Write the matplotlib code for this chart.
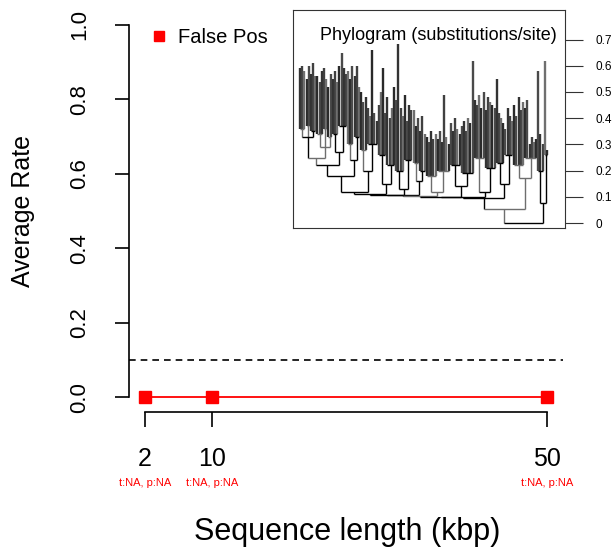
import matplotlib
matplotlib.use("Agg")
import matplotlib.pyplot as plt
import matplotlib.transforms as mtransforms
from matplotlib.collections import LineCollection
from matplotlib.lines import Line2D

plt.rcParams['font.family'] = ['Liberation Sans', 'DejaVu Sans']

# ---- data ----
seq_len = [2, 10, 50]
false_pos = [0.0, 0.0, 0.0]
tick_notes = ['t:NA, p:NA', 't:NA, p:NA', 't:NA, p:NA']
y_ticks = [0.0, 0.2, 0.4, 0.6, 0.8, 1.0]
threshold = 0.1
tree_ticks = [0, 0.1, 0.2, 0.3, 0.4, 0.5, 0.6, 0.7]
tree_tick_labels = ['0', '0.1', '0.2', '0.3', '0.4', '0.5', '0.6', '0.7']

# tree: leaf = tip height, node = (node height, [children]); heights in subst/site
G1 = (0.117, [
    (0.18, [
        (0.22, [
            (0.25, [
                (0.33, [(0.36, [0.59, 0.60, 0.58]), (0.37, [0.55, 0.60]), (0.35, [0.57, 0.61, 0.56])]),
                (0.29, [(0.34, [0.56, 0.54, 0.58]), (0.36, [0.59, 0.55]), (0.33, [0.52, 0.57])]),
            ]),
            (0.27, [(0.34, [0.55, 0.58, 0.54]), (0.37, [0.60, 0.65, 0.59, 0.57])]),
        ]),
        (0.24, [(0.30, [0.58, 0.55, 0.60]), (0.33, [0.56, 0.60, 0.52])]),
    ]),
    (0.20, [(0.28, [0.50, 0.46, 0.48]), (0.30, [0.44, 0.41, 0.66, 0.42, 0.39])]),
])
M1 = (0.15, [(0.26, [0.45, 0.50, 0.59, 0.42]), (0.22, [0.48, 0.40, 0.44, 0.52])])
M2 = (0.13, [(0.20, [0.47, 0.685, 0.44, 0.41]), (0.24, [0.49, 0.39, 0.45, 0.43])])
M3 = (0.16, [(0.23, [0.43, 0.37, 0.40]), (0.20, [0.35, 0.41, 0.34])])
M4 = (0.12, [(0.18, [0.33, 0.31, 0.35, 0.32, 0.34]), (0.20, [0.32, 0.35, 0.31, 0.49, 0.33, 0.30])])
M5 = (0.14, [(0.22, [0.38, 0.35, 0.40, 0.36, 0.34]), (0.19, [0.37, 0.39, 0.35, 0.40, 0.38, 0.62])])
M6 = (0.12, [(0.25, [0.47, 0.45, 0.49, 0.44, 0.50]), (0.21, [0.43, 0.48, 0.46, 0.45, 0.44])])
M7 = (0.15, [(0.23, [0.55, 0.42, 0.40, 0.38]), (0.26, [0.36, 0.44, 0.41, 0.39])])
C = (0.095, [(0.098, [(0.100, [(0.103, [(0.105, [(0.108, [(0.112, [G1, M1]), M2]), M3]), M4]), M5]), M6]), M7])
D = (0.17, [(0.22, [0.45, 0.41, 0.48, 0.43, 0.46]), (0.25, [0.44, 0.47, 0.30, 0.33, 0.31, 0.32])])
B = (0.075, [(0.20, [0.58, 0.34, 0.30]), (0.26, [0.62, 0.28])])
tree = (0.0, [(0.053, [C, D]), B])

tip_cols = ['#333333', '#404040', '#6f6f6f', '#2a2a2a', '#4a4a4a']
node_cols = ['#000000', '#6e6e6e']


def layout(node, parent_h, segs, cols, widths, counter):
    """returns x of node; appends vertical + horizontal segments"""
    if not isinstance(node, tuple):
        x = counter[0]
        counter[0] += 1
        segs.append([(x, parent_h), (x, node)])
        cols.append(tip_cols[x % len(tip_cols)])
        widths.append(1.7)
        return x
    h, kids = node
    xs = [layout(k, h, segs, cols, widths, counter) for k in kids]
    x = (xs[0] + xs[-1]) / 2.0
    c = node_cols[len(segs) % 2]
    segs.append([(xs[0], h), (xs[-1], h)])
    cols.append(c)
    widths.append(1.0)
    if parent_h is not None:
        segs.append([(x, parent_h), (x, h)])
        cols.append(c)
        widths.append(1.0)
    return x


# ---- figure ----
fig = plt.figure(figsize=(6.15, 5.54), dpi=100)
W, H = 615.0, 554.0
ax = fig.add_axes([129 / W, (H - 412) / H, 434 / W, 402 / H])

ax.plot(seq_len, false_pos, color='#ff0000', marker='s', ms=8.5, lw=1.3)
ax.axhline(threshold, color='black', lw=1.2, ls=(0, (4, 3)))

ax.set_xlim(2 - 0.04 * 48, 50 + 0.04 * 48)
ax.set_ylim(-0.04, 1.04)
for s in ['top', 'right']:
    ax.spines[s].set_visible(False)
ax.spines['left'].set_bounds(0, 1)
ax.spines['bottom'].set_bounds(2, 50)
for s in ['left', 'bottom']:
    ax.spines[s].set_linewidth(1.2)

ax.set_yticks(y_ticks)
ax.set_yticklabels(['%.1f' % v for v in y_ticks], rotation=90, va='center', fontsize=16)
ax.set_xticks(seq_len)
ax.set_xticklabels([str(v) for v in seq_len], fontsize=18)
ax.tick_params(axis='y', length=10, width=1.2, pad=18)
ax.tick_params(axis='x', length=11, width=1.2, pad=14)

note_tr = mtransforms.blended_transform_factory(ax.transData, fig.transFigure)
for xv, note in zip(seq_len, tick_notes):
    ax.text(xv, 1 - 483 / H, note, transform=note_tr, color='#ff0000', fontsize=8,
            ha='center', va='center')

fig.text(23 / W, 1 - 211 / H, 'Average Rate', rotation=90, fontsize=18, ha='center', va='center')
fig.text(347 / W, 1 - 532 / H, 'Sequence length (kbp)', fontsize=22, ha='center', va='center')

ax.legend(handles=[Line2D([], [], color='#ff0000', marker='s', ls='none', ms=7)],
          labels=['False Pos'], loc='upper left', frameon=False, fontsize=14.5,
          bbox_to_anchor=(149 / W, 1 - 28 / H), bbox_transform=fig.transFigure,
          handlelength=1.0, handletextpad=0.45, borderpad=0, borderaxespad=0)

# ---- inset phylogram ----
axi = fig.add_axes([293 / W, (H - 228) / H, 272 / W, 218 / H])
segs, cols, widths, counter = [], [], [], [0]
layout(tree, None, segs, cols, widths, counter)
n_tips = counter[0]
px_tip = 247.0 / (n_tips - 1)
axi.add_collection(LineCollection(segs, colors=cols, linewidths=widths))
axi.set_xlim(-7 / px_tip, n_tips - 1 + 18 / px_tip)
axi.set_ylim(-5 / 262.0, 213 / 262.0)
for s in axi.spines.values():
    s.set_color('#333333')
    s.set_linewidth(0.8)
axi.set_xticks([])
axi.yaxis.tick_right()
axi.set_yticks(tree_ticks)
axi.set_yticklabels(tree_tick_labels, fontsize=8.5)
axi.tick_params(axis='y', length=13, width=0.8, pad=9, color='#333333')
ttr = mtransforms.blended_transform_factory(axi.transAxes, axi.transData)
axi.text(27 / 272, 0.7, 'Phylogram (substitutions/site)', transform=ttr, fontsize=13,
         ha='left', va='baseline')

fig.savefig('out.png', dpi=100)
